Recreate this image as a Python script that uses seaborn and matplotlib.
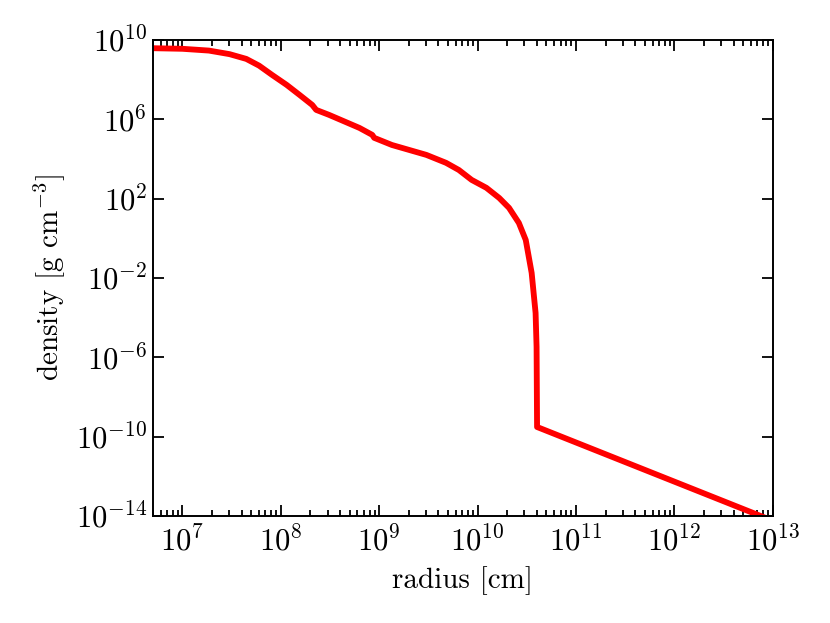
import numpy as np
import pandas as pd
import matplotlib
matplotlib.use('Agg')
import matplotlib.pyplot as plt
import seaborn as sns

# log10 of radius [cm] and density [g cm^-3]
log_radius = [6.70, 7.00, 7.27, 7.48, 7.65, 7.78, 7.91, 8.06, 8.19, 8.32, 8.36,
              8.49, 8.80, 8.93, 8.95, 9.13, 9.48, 9.68, 9.81, 9.94, 10.09,
              10.22, 10.32, 10.42, 10.49, 10.55, 10.59, 10.60, 10.605, 12.95]
log_density = [9.58, 9.55, 9.46, 9.28, 9.04, 8.70, 8.24, 7.73, 7.23, 6.72, 6.47,
               6.22, 5.56, 5.21, 5.06, 4.70, 4.20, 3.80, 3.44, 2.94, 2.54,
               2.03, 1.53, 0.77, -0.09, -1.75, -3.77, -5.48, -9.52, -14.15]

x_ticks = [1e7, 1e8, 1e9, 1e10, 1e11, 1e12, 1e13]
y_ticks = [1e10, 1e6, 1e2, 1e-2, 1e-6, 1e-10, 1e-14]

df = pd.DataFrame({'radius': np.power(10.0, log_radius),
                   'density': np.power(10.0, log_density)})

sns.set_style('ticks')
plt.rcParams['font.family'] = 'serif'
plt.rcParams['font.serif'] = ['cmr10']
plt.rcParams['mathtext.fontset'] = 'cm'
plt.rcParams['axes.formatter.use_mathtext'] = True
plt.rcParams['axes.unicode_minus'] = False
plt.rcParams['text.color'] = 'black'
plt.rcParams['axes.labelcolor'] = 'black'
plt.rcParams['xtick.color'] = 'black'
plt.rcParams['ytick.color'] = 'black'
plt.rcParams['axes.edgecolor'] = 'black'

fig, ax = plt.subplots(figsize=(8.3, 6.23), dpi=100)
sns.lineplot(data=df, x='radius', y='density', color='red', lw=4.2, ax=ax,
             sort=False, estimator=None)
ax.lines[0].set_solid_joinstyle('round')
ax.set_xscale('log')
ax.set_yscale('log')
ax.set_xticks(x_ticks)
ax.set_yticks(y_ticks)
ax.set_xlim(5e6, 1e13)
ax.set_ylim(1e-14, 1e10)
ax.yaxis.set_minor_locator(matplotlib.ticker.NullLocator())
ax.tick_params(which='both', direction='in', top=True, right=True,
               labelsize=22, width=1.3, pad=4)
ax.tick_params(axis='x', which='both', pad=7)
ax.tick_params(which='major', length=8)
ax.tick_params(which='minor', length=4)
for s in ax.spines.values():
    s.set_linewidth(1.4)
ax.set_xlabel('radius [cm]', fontsize=21, labelpad=7)
ax.set_ylabel('density [g cm$^{-3}$]', fontsize=21, labelpad=6)

fig.subplots_adjust(left=0.184, right=0.931, top=0.936, bottom=0.172)
fig.savefig('out.png', dpi=100)
